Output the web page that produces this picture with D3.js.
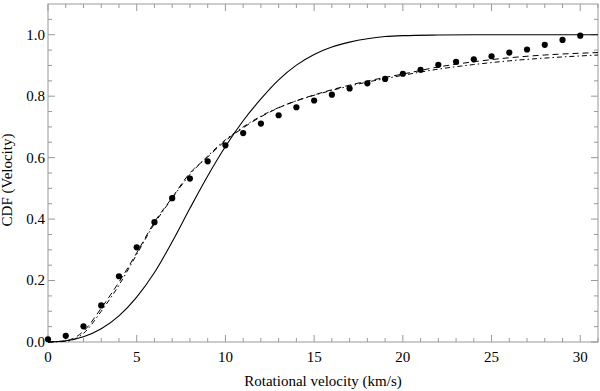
<!DOCTYPE html>
<html>
<head>
<meta charset="utf-8">
<script src="https://cdn.jsdelivr.net/npm/d3@7"></script>
<style>
  body { margin: 0; background: #fff; }
</style>
</head>
<body>
<div id="chart"></div>
<script>
// observed CDF (dots)
var obsX = [0,1,2,3,4,5,6,7,8,9,10,11,12,13,14,15,16,17,18,19,20,21,22,23,24,25,26,27,28,29,30];
var obsY = [0.009,0.020,0.051,0.119,0.214,0.308,0.390,0.468,0.532,0.588,0.640,0.680,0.711,0.738,0.764,0.786,0.805,0.825,0.842,0.856,0.873,0.886,0.902,0.912,0.920,0.930,0.942,0.952,0.967,0.983,0.997];

// solid model curve
var solidX = [0,1,2,3,4,5,6,7,8,9,10,11,12,13,14,15,16,17,18,19,20,22,25,31];
var solidY = [0,0.004,0.017,0.043,0.085,0.146,0.226,0.326,0.435,0.54,0.636,0.72,0.791,0.853,0.901,0.936,0.96,0.976,0.987,0.994,0.997,0.999,1.0,1.0];

// dashed model curve
var dashX = [0,1,2,3,4,5,6,7,8,9,10,11,12,13,14,15,16,17,18,19,20,22,24,26,28,31];
var dashY = [0,0.004,0.035,0.11,0.195,0.29,0.39,0.47,0.55,0.602,0.655,0.697,0.733,0.762,0.785,0.804,0.821,0.836,0.849,0.861,0.872,0.895,0.912,0.925,0.934,0.942];

// dash-dot model curve
var dotDashX = [0,1,2,3,4,5,6,7,8,9,10,11,12,13,14,15,16,17,18,19,20,22,24,26,28,31];
var dotDashY = [0,0.002,0.028,0.10,0.185,0.285,0.385,0.468,0.545,0.605,0.658,0.70,0.735,0.763,0.785,0.803,0.819,0.833,0.846,0.857,0.868,0.888,0.903,0.915,0.924,0.934];

var xTicks = [0,5,10,15,20,25,30];
var yTicks = [0.0,0.2,0.4,0.6,0.8,1.0];

var width = 600, height = 391;
var margin = {left: 48, right: 2, top: 4, bottom: 49};
var axisColor = '#999';
var font = '"Liberation Serif", "DejaVu Serif", serif';

var svg = d3.select('#chart').append('svg')
    .attr('width', width)
    .attr('height', height)
    .attr('font-family', font);

var x = d3.scaleLinear().domain([0, 31]).range([margin.left, width - margin.right]);
var y = d3.scaleLinear().domain([0, 1.1]).range([height - margin.bottom, margin.top]);

var x0 = x.range()[0], x1 = x.range()[1];
var y0 = y.range()[0], y1 = y.range()[1];

// frame
svg.append('rect')
    .attr('x', x0).attr('y', y1)
    .attr('width', x1 - x0).attr('height', y0 - y1)
    .attr('fill', 'none')
    .attr('stroke', axisColor)
    .attr('stroke-width', 1);

// ticks, pointing inward on all sides
var minorX = d3.range(0, 32, 1);
var minorY = d3.range(0, 1.1, 0.05);
var g = svg.append('g').attr('stroke', axisColor).attr('stroke-width', 1);
minorX.forEach(function(v){
    var len = (v % 5 === 0) ? 7 : 4;
    g.append('line').attr('x1', x(v)).attr('x2', x(v)).attr('y1', y0).attr('y2', y0 - len);
    g.append('line').attr('x1', x(v)).attr('x2', x(v)).attr('y1', y1).attr('y2', y1 + len);
});
minorY.forEach(function(v){
    var isMajor = Math.abs(Math.round(v * 5) - v * 5) < 1e-6;
    var len = isMajor ? 7 : 4;
    g.append('line').attr('y1', y(v)).attr('y2', y(v)).attr('x1', x0).attr('x2', x0 + len);
    g.append('line').attr('y1', y(v)).attr('y2', y(v)).attr('x1', x1).attr('x2', x1 - len);
});

// tick labels
svg.selectAll('.xlab').data(xTicks).enter().append('text')
    .attr('class', 'xlab')
    .attr('x', d => x(d))
    .attr('y', y0 + 20)
    .attr('text-anchor', 'middle')
    .attr('font-size', 15)
    .text(d => d);

svg.selectAll('.ylab').data(yTicks).enter().append('text')
    .attr('class', 'ylab')
    .attr('x', x0 - 3)
    .attr('y', d => y(d))
    .attr('dy', '0.33em')
    .attr('text-anchor', 'end')
    .attr('font-size', 15)
    .text(d => d3.format('.1f')(d));

// axis titles
svg.append('text')
    .attr('x', 323)
    .attr('y', 386)
    .attr('text-anchor', 'middle')
    .attr('font-size', 15)
    .text('Rotational velocity  (km/s)');

svg.append('text')
    .attr('transform', 'translate(12,180) rotate(-90)')
    .attr('text-anchor', 'middle')
    .attr('font-size', 15)
    .text('CDF  (Velocity)');

// curves
var line = d3.line()
    .x(d => x(d[0]))
    .y(d => y(d[1]))
    .curve(d3.curveMonotoneX);

var plot = svg.append('g');

plot.append('path')
    .datum(d3.zip(solidX, solidY))
    .attr('d', line)
    .attr('fill', 'none')
    .attr('stroke', '#000')
    .attr('stroke-width', 1.1);

plot.append('path')
    .datum(d3.zip(dashX, dashY))
    .attr('d', line)
    .attr('fill', 'none')
    .attr('stroke', '#000')
    .attr('stroke-width', 1)
    .attr('stroke-dasharray', '6,4');

plot.append('path')
    .datum(d3.zip(dotDashX, dotDashY))
    .attr('d', line)
    .attr('fill', 'none')
    .attr('stroke', '#000')
    .attr('stroke-width', 1)
    .attr('stroke-dasharray', '5,3,1.5,3');

plot.selectAll('circle')
    .data(d3.zip(obsX, obsY))
    .enter().append('circle')
    .attr('cx', d => x(d[0]))
    .attr('cy', d => y(d[1]))
    .attr('r', 3.1)
    .attr('fill', '#000');
</script>
</body>
</html>
